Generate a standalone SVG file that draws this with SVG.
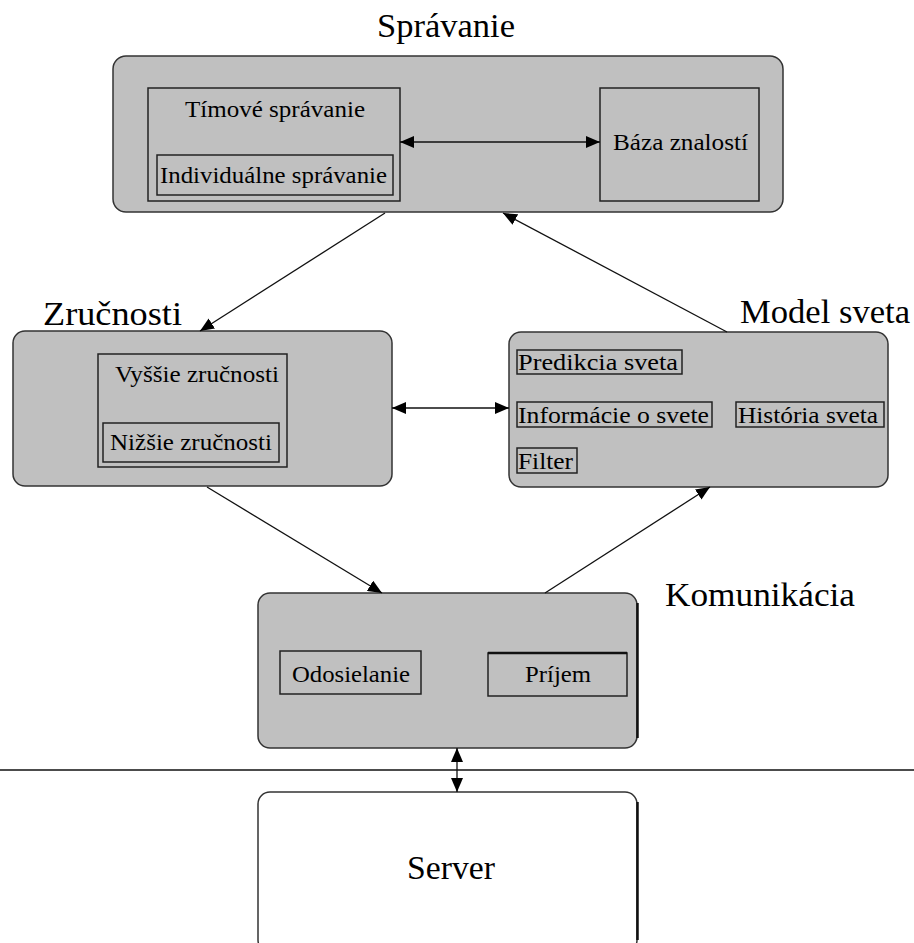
<svg xmlns="http://www.w3.org/2000/svg" width="914" height="943" viewBox="0 0 914 943" font-family="Liberation Serif, Times New Roman, DejaVu Serif, serif">
<style>
.panel{fill:#c0c0c0;stroke:#333;stroke-width:1.5}
.inner{fill:none;stroke:#222;stroke-width:1.5}
.white{fill:#fff;stroke:#333;stroke-width:1.5}
.title{font-size:34px;fill:#000}
.lbl{font-size:24px;fill:#000}
.conn{fill:none;stroke:#111;stroke-width:1.3}
</style>
<defs>
<marker id="ah" viewBox="0 0 14 12" refX="14" refY="6" markerWidth="14" markerHeight="12" markerUnits="userSpaceOnUse" orient="auto-start-reverse">
<path d="M0,0 L14,6 L0,12 z" fill="#000"/>
</marker>
</defs>
<rect width="914" height="943" fill="#fff"/>

<g id="spravanie">
<rect class="panel" x="113" y="56" width="670" height="156" rx="13"/>
<text class="title" x="377" y="37" textLength="138" lengthAdjust="spacingAndGlyphs">Správanie</text>
</g>
<g id="timove">
<rect class="inner" x="148" y="88" width="252" height="113"/>
<text class="lbl" x="185" y="117" textLength="180" lengthAdjust="spacingAndGlyphs">Tímové správanie</text>
</g>
<g id="individualne">
<rect class="inner" x="157" y="155" width="236" height="40"/>
<text class="lbl" x="160" y="183" textLength="227" lengthAdjust="spacingAndGlyphs">Individuálne správanie</text>
</g>
<g id="baza">
<rect class="inner" x="600" y="88" width="159" height="113"/>
<text class="lbl" x="613" y="150" textLength="135" lengthAdjust="spacingAndGlyphs">Báza znalostí</text>
</g>

<g id="zrucnosti">
<rect class="panel" x="13" y="331" width="379" height="155" rx="12"/>
<text class="title" x="43" y="325" textLength="139" lengthAdjust="spacingAndGlyphs">Zručnosti</text>
</g>
<g id="vyssie">
<rect class="inner" x="98" y="354" width="189" height="113"/>
<text class="lbl" x="115" y="382" textLength="164" lengthAdjust="spacingAndGlyphs">Vyššie zručnosti</text>
</g>
<g id="nizsie">
<rect class="inner" x="103" y="423" width="176" height="39"/>
<text class="lbl" x="110" y="450" textLength="162" lengthAdjust="spacingAndGlyphs">Nižšie zručnosti</text>
</g>

<g id="model">
<rect class="panel" x="509" y="332" width="379" height="155" rx="12"/>
<text class="title" x="740" y="323" textLength="170" lengthAdjust="spacingAndGlyphs">Model sveta</text>
</g>
<g id="predikcia">
<rect class="inner" x="517" y="350" width="165" height="24"/>
<text class="lbl" x="518" y="370" textLength="160" lengthAdjust="spacingAndGlyphs">Predikcia sveta</text>
</g>
<g id="informacie">
<rect class="inner" x="517" y="402" width="195" height="25"/>
<text class="lbl" x="518" y="423" textLength="191" lengthAdjust="spacingAndGlyphs">Informácie o svete</text>
</g>
<g id="historia">
<rect class="inner" x="736" y="402" width="148" height="25"/>
<text class="lbl" x="738" y="423" textLength="140" lengthAdjust="spacingAndGlyphs">História sveta</text>
</g>
<g id="filter">
<rect class="inner" x="517" y="448" width="60" height="25"/>
<text class="lbl" x="518" y="469" textLength="55" lengthAdjust="spacingAndGlyphs">Filter</text>
</g>

<g id="komunikacia">
<rect class="panel" x="258" y="593" width="379" height="155" rx="12"/>
<line x1="637.5" y1="603" x2="637.5" y2="738" stroke="#111" stroke-width="2.5"/>
<text class="title" x="665" y="606" textLength="190" lengthAdjust="spacingAndGlyphs">Komunikácia</text>
</g>
<g id="odosielanie">
<rect class="inner" x="280" y="651" width="141" height="43"/>
<text class="lbl" x="292" y="682" textLength="118" lengthAdjust="spacingAndGlyphs">Odosielanie</text>
</g>
<g id="prijem">
<rect class="inner" x="488" y="653" width="139" height="43"/>
<line x1="488" y1="653" x2="627" y2="653" stroke="#111" stroke-width="2.5"/>
<text class="lbl" x="525" y="682" textLength="66" lengthAdjust="spacingAndGlyphs">Príjem</text>
</g>

<g id="server">
<rect class="white" x="258" y="792" width="379" height="160" rx="12"/>
<line x1="637.5" y1="802" x2="637.5" y2="940" stroke="#111" stroke-width="2.5"/>
<text class="title" x="407" y="879" textLength="88" lengthAdjust="spacingAndGlyphs">Server</text>
</g>

<g id="connectors">
<line class="conn" x1="0" y1="770" x2="914" y2="770"/>
<line class="conn" x1="400" y1="142" x2="600" y2="142" marker-start="url(#ah)" marker-end="url(#ah)"/>
<line class="conn" x1="385" y1="213" x2="200" y2="331" marker-end="url(#ah)"/>
<line class="conn" x1="727" y1="332" x2="503" y2="213" marker-end="url(#ah)"/>
<line class="conn" x1="392" y1="408" x2="509" y2="408" marker-start="url(#ah)" marker-end="url(#ah)"/>
<line class="conn" x1="207" y1="487" x2="382" y2="593" marker-end="url(#ah)"/>
<line class="conn" x1="545" y1="593" x2="710" y2="487" marker-end="url(#ah)"/>
<line class="conn" x1="457" y1="748" x2="457" y2="792" marker-start="url(#ah)" marker-end="url(#ah)"/>
</g>
</svg>
